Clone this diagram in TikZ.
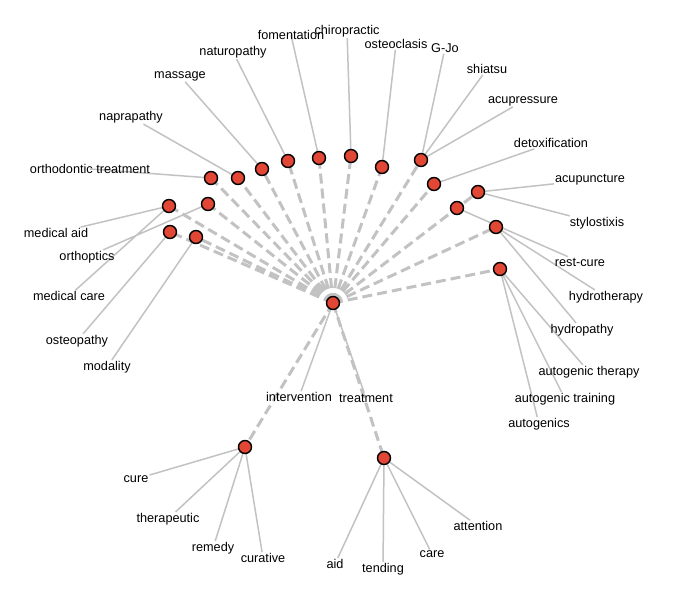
\documentclass[tikz,border=0pt]{standalone}
\usepackage{fontspec}
\setmainfont{Liberation Sans}
\usetikzlibrary{backgrounds}
\definecolor{dotred}{RGB}{226,70,52}
\definecolor{edgegray}{RGB}{194,194,194}

\begin{document}
\begin{tikzpicture}[
        x=1pt,y=-1pt,
        hub/.style={draw=black,circle,fill=dotred,line width=1.4pt,minimum size=13pt,inner sep=0pt},
        word/.style={inner sep=1pt,font=\fontsize{12.7}{14}\selectfont},
        link/.style={draw=edgegray,line width=1.5pt},
        tie/.style={draw=edgegray,line width=3pt,dash pattern=on 10pt off 5pt}
      ]
      \useasboundingbox (0,0) rectangle (677,602);
      \node[hub] (c) at (333,303) {};
      \node[hub] (n1) at (211,178) {};
      \node[hub] (n2) at (238,178) {};
      \node[hub] (n3) at (262,169) {};
      \node[hub] (n4) at (288,161) {};
      \node[hub] (n5) at (319,158) {};
      \node[hub] (n6) at (351,156) {};
      \node[hub] (n7) at (382,167) {};
      \node[hub] (n8) at (421,160) {};
      \node[hub] (n9) at (434,184) {};
      \node[hub] (n10) at (478,192) {};
      \node[hub] (n11) at (457,208) {};
      \node[hub] (n12) at (496,227) {};
      \node[hub] (n13) at (500,269) {};
      \node[hub] (n14) at (169,206) {};
      \node[hub] (n15) at (208,204) {};
      \node[hub] (n16) at (170,232) {};
      \node[hub] (n17) at (196,237) {};
      \node[hub] (n18) at (245,447) {};
      \node[hub] (n19) at (384,458) {};

      \node[word] (intervention) at (299,397) {intervention};
      \node[word] (treatment) at (366,398) {treatment};
      \node[word] (orthodontic) at (90,169) {orthodontic treatment};
      \node[word] (naprapathy) at (131,117) {naprapathy};
      \node[word] (massage) at (180,76) {massage};
      \node[word] (naturopathy) at (233,52) {naturopathy};
      \node[word] (chiropractic) at (347,31) {chiropractic};
      \node[word] (fomentation) at (291,35) {fomentation};
      \node[word] (osteoclasis) at (396,44) {osteoclasis};
      \node[word] (gjo) at (445,48) {G-Jo};
      \node[word] (shiatsu) at (487,69) {shiatsu};
      \node[word] (acupressure) at (523,101) {acupressure};
      \node[word] (detoxification) at (551,143) {detoxification};
      \node[word] (acupuncture) at (590,180) {acupuncture};
      \node[word] (stylostixis) at (597,223) {stylostixis};
      \node[word] (restcure) at (580,262) {rest-cure};
      \node[word] (hydrotherapy) at (606,297) {hydrotherapy};
      \node[word] (hydropathy) at (582,330) {hydropathy};
      \node[word] (autotherapy) at (589,372) {autogenic therapy};
      \node[word] (autotraining) at (565,399) {autogenic training};
      \node[word] (autogenics) at (539,424) {autogenics};
      \node[word] (medaid) at (56,233) {medical aid};
      \node[word] (orthoptics) at (87,257) {orthoptics};
      \node[word] (medcare) at (69,296) {medical care};
      \node[word] (osteopathy) at (77,341) {osteopathy};
      \node[word] (modality) at (107,367) {modality};
      \node[word] (cure) at (136,479) {cure};
      \node[word] (therapeutic) at (168,519) {therapeutic};
      \node[word] (remedy) at (213,548) {remedy};
      \node[word] (curative) at (263,558) {curative};
      \node[word] (aid) at (335,564) {aid};
      \node[word] (tending) at (383,569) {tending};
      \node[word] (care) at (432,554) {care};
      \node[word] (attention) at (478,526) {attention};

      \begin{scope}[on background layer]
        \path[tie] (c.center) -- (n1.center) (c.center) -- (n2.center) (c.center) -- (n3.center)
          (c.center) -- (n4.center) (c.center) -- (n5.center) (c.center) -- (n6.center)
          (c.center) -- (n7.center) (c.center) -- (n8.center) (c.center) -- (n9.center)
          (c.center) -- (n10.center) (c.center) -- (n11.center) (c.center) -- (n12.center)
          (c.center) -- (n13.center) (c.center) -- (n14.center) (c.center) -- (n15.center)
          (c.center) -- (n16.center) (c.center) -- (n17.center) (c.center) -- (n18.center)
          (c.center) -- (n19.center);
        \path[link] (c) -- (intervention) (c) -- (treatment)
          (n1) -- (orthodontic.center) (n2) -- (naprapathy) (n3) -- (massage)
          (n4) -- (naturopathy) (n5) -- (fomentation.center) (n6) -- (chiropractic)
          (n7) -- (osteoclasis) (n8) -- (gjo) (n8) -- (shiatsu) (n8) -- (acupressure)
          (n9) -- (detoxification) (n10) -- (acupuncture) (n10) -- (stylostixis)
          (n11) -- (restcure) (n12) -- (hydrotherapy) (n12) -- (hydropathy)
          (n13) -- (autotherapy) (n13) -- (autotraining) (n13) -- (autogenics)
          (n14) -- (medaid) (n14) -- (medcare) (n15) -- (orthoptics)
          (n16) -- (osteopathy) (n17) -- (modality)
          (n18) -- (cure) (n18) -- (therapeutic) (n18) -- (remedy) (n18) -- (curative)
          (n19) -- (aid) (n19) -- (tending) (n19) -- (care) (n19) -- (attention);
      \end{scope}
    \end{tikzpicture}
\end{document}
